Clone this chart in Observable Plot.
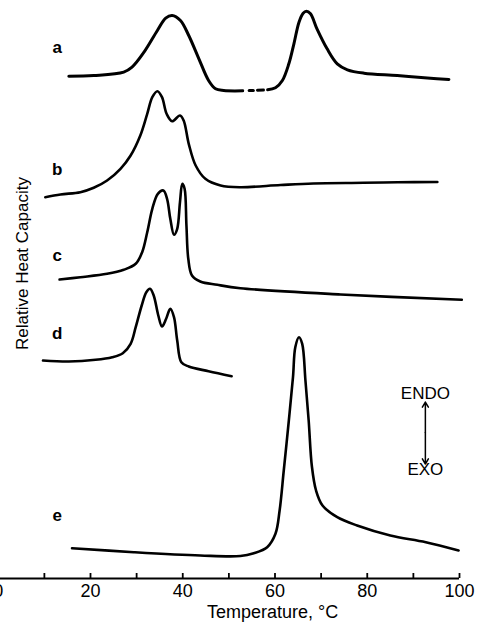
<!DOCTYPE html>
<html><head><meta charset="utf-8">
<script src="https://cdn.jsdelivr.net/npm/d3@7"></script>
<script src="https://cdn.jsdelivr.net/npm/@observablehq/plot@0.6"></script>
<style>body{margin:0;background:#fff}</style>
</head><body><div id="chart"></div>
<script>
// Temperature (°C) / relative heat capacity (arbitrary units, curves stacked)
const curveA1 = [[15.3,502.3],[20.7,503],[27.2,506.3],[29.0,511.3],[31.6,526.3],[34.5,548],[36.3,560.3],[37.7,563],[39.5,558],[41.3,543],[43.5,519.7],[45.6,498],[47.1,489.7],[48.9,488],[53.0,487.7]];
const curveADash1 = [[54.4,488],[55.3,488]];
const curveADash2 = [[56.2,488.3],[57.5,488.5]];
const curveA2 = [[58.4,488.7],[60.1,490.7],[61.6,498],[63.0,514.7],[64.1,534.7],[65.2,556.3],[66.1,565.3],[66.8,567.3],[67.7,564.7],[69.1,549.7],[71.3,529.7],[73.5,514.7],[75.7,508.7],[79.3,505.3],[86.5,503],[93.7,500.3],[97.7,499]];
const curveB = [[10.2,381.3],[13.5,384],[17.8,386.3],[20.7,390.7],[23.6,398],[26.5,409.7],[28.7,423],[30.8,443],[32.3,464.7],[33.4,481.3],[34.5,487.3],[35.5,481.3],[36.5,464.7],[37.7,457.3],[39.4,463],[40.2,458],[41.3,434.7],[42.8,413],[44.9,399.7],[48.2,393],[52.5,391.3],[61.2,393.5],[68.3,395],[79.2,395.7],[86.6,396.3],[95.2,396.5]];
const curveC = [[13.3,299],[17.8,301.3],[23.6,304.7],[27.2,308.7],[29.8,314.7],[31.2,326.3],[32.3,346.3],[33.4,369.7],[34.6,384.7],[35.8,388],[36.6,379.7],[37.3,359.7],[38.1,343.7],[38.8,349.7],[39.4,376.3],[39.9,394.7],[40.4,389.7],[40.8,353],[41.2,319.7],[42.0,303],[43.8,297],[47.5,293.7],[52.5,290.3],[74.2,284],[100.5,278.7]];
const curveD = [[9.7,218],[15.3,217],[21.1,218.7],[24.7,221.3],[27.0,225.3],[28.7,234.7],[29.8,251.3],[31.1,273],[32.1,286.3],[32.9,289.7],[33.7,283],[34.7,263],[35.5,252],[36.4,259.7],[37.3,269.7],[38.1,261.3],[38.8,238],[39.7,216.3],[41.3,212],[45.6,207.3],[50.6,202.3]];
const curveE = [[16.0,30.3],[29.4,26.3],[43.8,23],[52.5,22.5],[55.4,25.3],[58.3,31.3],[60.1,44.7],[61.0,68],[61.9,108],[63.0,158],[63.9,201.3],[64.4,231.3],[65.2,241.3],[65.9,234.7],[66.6,198],[67.3,158],[68.0,112],[68.9,88],[70.3,73],[73.5,61.3],[77.8,53],[85.0,43],[92.7,36.3],[99.8,28]];

const curveLetters = ["a","b","c","d","e"];
const letterT = [12.8,12.8,12.8,12.8,12.8];
const letterV = [531,409,323,245,63];

const majorTicks = [0,20,40,60,80,100];
const allTicks = [0,10,20,30,40,50,60,70,80,90,100];

const xTitle = "Temperature, °C";
const yTitle = "Relative Heat Capacity";
const endoLabel = "ENDO", exoLabel = "EXO";

const segments = [
  ["a1", curveA1], ["ad1", curveADash1], ["ad2", curveADash2], ["a2", curveA2],
  ["b", curveB], ["c", curveC], ["d", curveD], ["e", curveE]
];
const rows = segments.flatMap(([k, arr]) => arr.map(([T, v]) => ({k, T, v})));
const thickRows = rows.filter(r => r.k.startsWith("a"));
const thinRows = rows.filter(r => !r.k.startsWith("a"));
const letters = curveLetters.map((l, i) => ({l, T: letterT[i], v: letterV[i]}));

const font = "'Liberation Sans', Arial, sans-serif";

const chart = Plot.plot({
  width: 477, height: 623,
  marginTop: 0, marginBottom: 45, marginLeft: 0, marginRight: 0,
  x: {domain: [0, 100], range: [-2.25, 459], axis: null},
  y: {domain: [0, 578], axis: null},
  style: {fontFamily: font, background: "#fff", overflow: "visible"},
  marks: [
    Plot.ruleY([0], {x1: 0, x2: 100, stroke: "#000", strokeWidth: 2}),
    Plot.ruleX(allTicks, {x: d => d, y1: 0, y2: 5, stroke: "#000", strokeWidth: 1.8}),
    Plot.text(majorTicks, {x: d => d, y: 0, dy: 13, text: d => String(d), fontSize: 18, fill: "#000"}),
    Plot.text([xTitle], {x: 59.5, y: 0, dy: 34, text: d => d, fontSize: 18, fill: "#000"}),
    Plot.text([yTitle], {x: 5.3, y: 315, rotate: -90, text: d => d, fontSize: 17, fill: "#000"}),
    Plot.line(thickRows, {x: "T", y: "v", z: "k", curve: "catmull-rom", stroke: "#000", strokeWidth: 3, strokeLinecap: "round", strokeLinejoin: "round"}),
    Plot.line(thinRows, {x: "T", y: "v", z: "k", curve: "catmull-rom", stroke: "#000", strokeWidth: 2.6, strokeLinecap: "round", strokeLinejoin: "round"}),
    Plot.text(letters, {x: "T", y: "v", text: "l", fontSize: 17, fontWeight: "bold", fill: "#000"}),
    Plot.text([endoLabel], {x: 92.6, y: 185, text: d => d, fontSize: 17, fill: "#000"}),
    Plot.text([exoLabel], {x: 92.6, y: 109, text: d => d, fontSize: 17, fill: "#000"}),
    Plot.arrow([0], {x1: 92.6, y1: 146, x2: 92.6, y2: 176.5, stroke: "#000", strokeWidth: 1.5, headLength: 6}),
    Plot.arrow([0], {x1: 92.6, y1: 146, x2: 92.6, y2: 114.5, stroke: "#000", strokeWidth: 1.5, headLength: 6})
  ]
});
document.getElementById("chart").appendChild(chart);
</script>
</body></html>
